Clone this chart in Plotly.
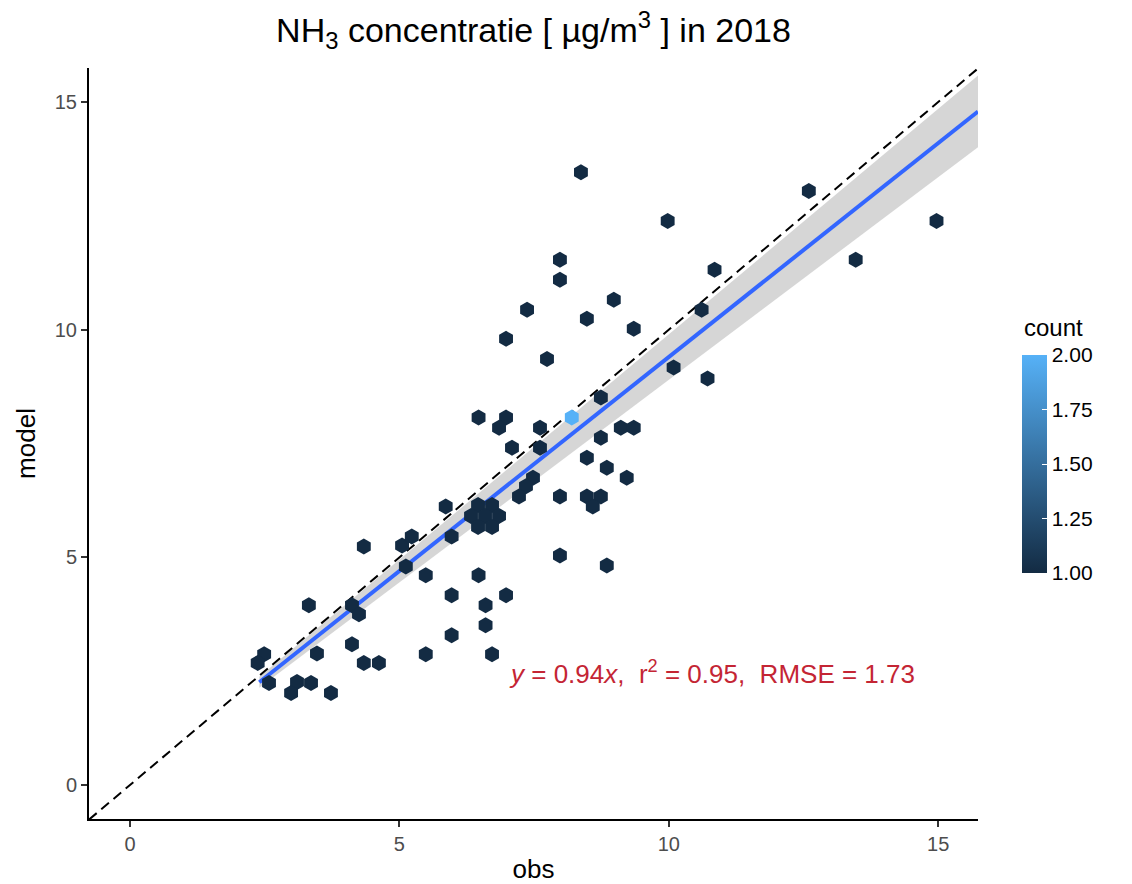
import numpy as np
import plotly.graph_objects as go

# Hexbin centres: observed vs modelled NH3 (µg/m³) and number of stations per hex
obs = [2.49, 2.37, 2.58, 3.10, 3.36, 2.99, 3.73, 3.32, 4.34, 4.12,
       4.25, 3.47, 4.12, 4.34, 4.62, 5.12, 5.05, 5.23, 5.86, 5.49,
       5.97, 5.97, 5.49, 5.97, 6.47, 6.60, 6.98, 6.60, 6.72,
       6.46, 6.72, 6.33, 6.59, 6.85, 6.46, 6.72,
       6.47, 6.98, 6.85, 7.61, 8.20, 8.74, 9.11, 9.35, 8.74, 7.09,
       7.61, 8.48, 8.85, 9.22, 7.48, 7.35, 7.22, 7.98, 8.48, 8.74,
       8.59, 7.98, 8.85,
       8.37, 9.98, 7.98, 7.98, 10.85, 7.37, 8.98, 6.98, 8.48, 9.35,
       10.61, 7.74, 10.09, 10.72, 12.60, 14.97, 13.47]
model = [2.87, 2.68, 2.24, 2.26, 2.24, 2.02, 2.02, 3.95, 5.24, 3.95,
         3.75, 2.89, 3.09, 2.68, 2.68, 4.80, 5.26, 5.46, 6.12, 4.61,
         4.17, 3.29, 2.87, 5.46, 4.61, 3.95, 4.17, 3.51, 2.87,
         6.15, 6.15, 5.91, 5.91, 5.91, 5.67, 5.67,
         8.07, 8.07, 7.85, 7.85, 8.07, 8.51, 7.85, 7.85, 7.63, 7.41,
         7.41, 7.19, 6.97, 6.75, 6.75, 6.56, 6.34, 6.34, 6.34, 6.34,
         6.12, 5.04, 4.82,
         13.46, 12.39, 11.54, 11.10, 11.32, 10.44, 10.66, 9.80, 10.24, 10.02,
         10.44, 9.36, 9.17, 8.93, 13.05, 12.39, 11.54]
counts = [1] * len(obs)
counts[40] = 2

# Fit through the origin and its confidence band
slope = 0.94
band_k = 0.050
fit_x = [2.4, 15.74]
diag = [-0.76, 15.74]
cb_ticks = [1.0, 1.25, 1.5, 1.75, 2.0]

FONT = "Liberation Sans, Arial, Helvetica, sans-serif"

fx = np.linspace(fit_x[0], fit_x[1], 50)
fy = slope * fx
upper = fy + band_k * fx
lower = fy - band_k * fx

fig = go.Figure()

fig.add_trace(go.Scatter(
    x=np.concatenate([fx, fx[::-1]]), y=np.concatenate([upper, lower[::-1]]),
    fill="toself", fillcolor="rgba(153,153,153,0.4)", line=dict(width=0),
    hoverinfo="skip", showlegend=False))

fig.add_trace(go.Scatter(
    x=fx, y=fy, mode="lines", line=dict(color="#3366FF", width=4),
    showlegend=False))

fig.add_trace(go.Scatter(
    x=diag, y=diag, mode="lines",
    line=dict(color="black", width=2, dash="10px,6px"),
    showlegend=False))

fig.add_trace(go.Scatter(
    x=obs, y=model, mode="markers", showlegend=False,
    marker=dict(
        symbol="hexagon", size=16, color=counts, cmin=1, cmax=2,
        colorscale=[[0, "#132B43"], [1, "#56B1F7"]], line=dict(width=0),
        showscale=True,
        colorbar=dict(
            tickvals=cb_ticks, tickformat=".2f",
            tickfont=dict(family=FONT, size=21, color="black"),
            ticks="inside", ticklen=5, tickcolor="white",
            thickness=25, lenmode="pixels", len=218,
            x=1.0495, xanchor="left", xpad=0,
            y=0.4727, yanchor="middle", ypad=0,
            outlinewidth=0,
        ),
    )))

# legend title for the colour scale
fig.add_annotation(
    x=1.0495, y=0.655, xref="paper", yref="paper", xanchor="left", yanchor="middle",
    text="count", showarrow=False, font=dict(family=FONT, size=24, color="black"))

fig.add_annotation(
    x=7.0, y=2.48, xref="x", yref="y", xanchor="left", yanchor="middle",
    text="<i>y</i> = 0.94<i>x</i>,  r<sup>2</sup> = 0.95,  RMSE = 1.73",
    showarrow=False, font=dict(family=FONT, size=26, color="#C42534"))

axis_common = dict(
    showgrid=False, zeroline=False, showline=True, linecolor="black", linewidth=2,
    ticks="outside", ticklen=6, tickwidth=1.5, tickcolor="#333333",
    tickfont=dict(family=FONT, size=20, color="#4D4D4D"),
    tickvals=[0, 5, 10, 15], automargin=False,
)

fig.update_layout(
    width=1132, height=884,
    margin=dict(l=89, r=154, t=68, b=65),
    paper_bgcolor="white", plot_bgcolor="white",
    title=dict(text="NH<sub>3</sub> concentratie [ µg/m<sup>3</sup> ] in 2018",
               x=0.4713, xanchor="center", y=0.966, yanchor="middle",
               font=dict(family=FONT, size=34, color="black")),
    xaxis=dict(range=[-0.761, 15.74],
               title=dict(text="obs", font=dict(family=FONT, size=26, color="black"),
                          standoff=16),
               **axis_common),
    yaxis=dict(range=[-0.747, 15.75],
               title=dict(text="model", font=dict(family=FONT, size=26, color="black"),
                          standoff=12),
               **axis_common),
)

fig.write_html("out.html")
